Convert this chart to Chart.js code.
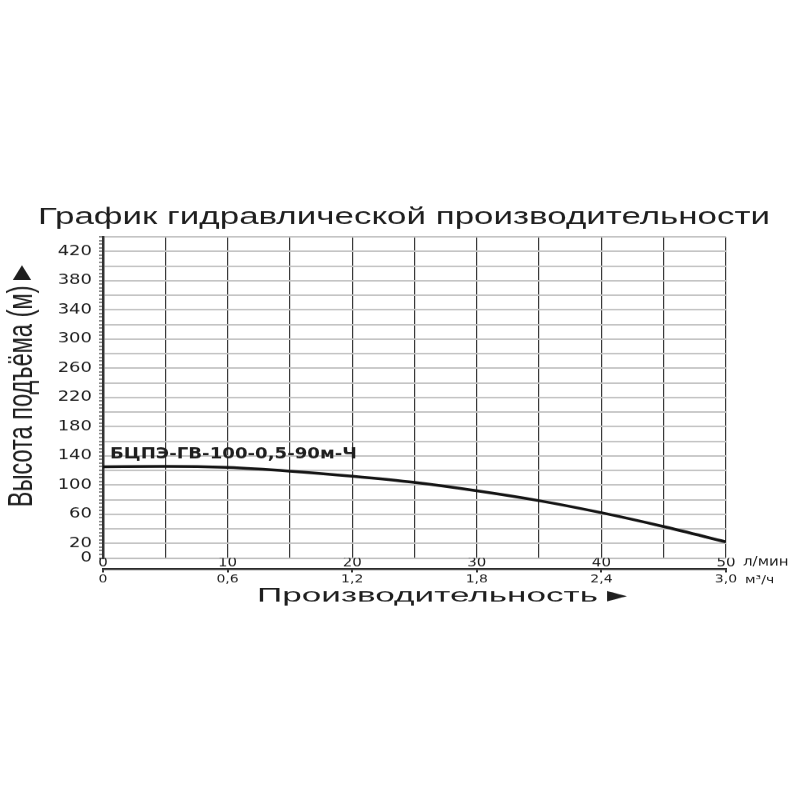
<!DOCTYPE html>
<html lang="ru">
<head>
<meta charset="utf-8">
<title>График гидравлической производительности</title>
<script src="https://cdn.jsdelivr.net/npm/chart.js@4.4.1/dist/chart.umd.min.js"></script>
<style>
    html, body { margin: 0; padding: 0; background: #fff; overflow: hidden; width: 800px; height: 800px; }
    /* the reference picture is squashed vertically, so draw tall and squash */
    #chart { display: block; transform: scale(1, 0.8); transform-origin: 0 0; }
</style>
</head>
<body>
<canvas id="chart" width="800" height="1000" style="width:800px;height:1000px"></canvas>
<script>
// Data
const flowLpm = [0, 5, 10, 15, 20, 25, 30, 35, 40, 45, 50];          // л/мин
const headM = [125, 125.5, 124, 119, 112, 103.5, 92, 78.5, 62, 43, 22]; // м

const yTickLabels = [0, 20, 60, 100, 140, 180, 220, 260, 300, 340, 380, 420];
const xTickLabels = [0, 10, 20, 30, 40, 50];
const x2TickLabels = ['0', '0,6', '1,2', '1,8', '2,4', '3,0'];

const chartTitle = 'График гидравлической производительности';
const yTitle = 'Высота подъёма (м)';
const xTitle = 'Производительность';
const seriesName = 'БЦПЭ-ГВ-100-0,5-90м-Ч';

const textColor = '#1e1e1e';

// draw text stretched to a given width, left edge at x
function drawFitted(ctx, text, x, y, font, targetW) {
    ctx.font = font;
    const w = ctx.measureText(text).width;
    ctx.save();
    ctx.translate(x, y);
    ctx.scale(targetW / w, 1);
    ctx.textAlign = 'left';
    ctx.fillText(text, 0, 0);
    ctx.restore();
}

const textPlugin = {
    id: 'chartTexts',
    afterDraw(chart) {
        const ctx = chart.ctx;
        const xs = chart.scales.x;
        const x2 = chart.scales.x2;
        const ys = chart.scales.y;

        ctx.save();
        ctx.fillStyle = textColor;
        ctx.textBaseline = 'alphabetic';

        // main title
        drawFitted(ctx, chartTitle, 38, 280, '29px "Liberation Sans", Arial, sans-serif', 732);

        // x axis title with arrow
        drawFitted(ctx, xTitle, 257, 752, '24.5px "Liberation Sans", Arial, sans-serif', 341);
        ctx.font = '26px "DejaVu Sans", sans-serif';
        ctx.textAlign = 'left';
        ctx.fillText('►', 607, 752);

        // y axis title (rotated) and arrow
        ctx.save();
        ctx.translate(32, 634);
        ctx.rotate(-Math.PI / 2);
        drawFitted(ctx, yTitle, 0, 0, '35px "Liberation Sans", Arial, sans-serif', 277);
        ctx.restore();

        ctx.font = '24px "DejaVu Sans", sans-serif';
        ctx.textAlign = 'center';
        ctx.textBaseline = 'middle';
        ctx.fillText('▲', 22, 341);

        // series label next to the curve start
        ctx.textBaseline = 'alphabetic';
        drawFitted(ctx, seriesName, xs.getPixelForValue(flowLpm[0]) + 7,
            ys.getPixelForValue(headM[0]) - 10, 'bold 19px "DejaVu Sans", sans-serif', 247);

        // axis units
        ctx.textAlign = 'left';
        ctx.textBaseline = 'middle';
        ctx.font = '15px "DejaVu Sans", sans-serif';
        ctx.fillText('л/мин', xs.right + 17, xs.top + 6);
        ctx.font = '14px "DejaVu Sans", sans-serif';
        ctx.fillText('м³/ч', x2.right + 19, x2.top + 14);

        ctx.restore();
    }
};

new Chart(document.getElementById('chart'), {
    type: 'line',
    data: {
        datasets: [{
            label: seriesName,
            data: flowLpm.map((q, i) => ({ x: q, y: headM[i] })),
            borderColor: '#141414',
            borderWidth: 3.5,
            pointRadius: 0,
            fill: false,
            cubicInterpolationMode: 'monotone'
        }]
    },
    options: {
        responsive: false,
        animation: false,
        layout: {
            padding: { top: 296, right: 74, bottom: 258, left: 0 }
        },
        plugins: {
            legend: { display: false },
            tooltip: { enabled: false },
            title: { display: false }
        },
        scales: {
            x: {
                type: 'linear',
                position: 'bottom',
                weight: 0,
                min: 0,
                max: 50,
                afterFit(scale) { scale.height = 14; },
                grid: {
                    color: '#3a3a3a',
                    lineWidth: 1.2,
                    drawTicks: false
                },
                border: { color: '#bdbdbd', width: 1.5 },
                ticks: {
                    stepSize: 5,
                    autoSkip: false,
                    maxRotation: 0,
                    padding: -2,
                    color: textColor,
                    font: { family: '"DejaVu Sans", sans-serif', size: 15 },
                    callback: (value) => xTickLabels.includes(value) ? String(value) : ''
                }
            },
            x2: {
                type: 'linear',
                position: 'bottom',
                weight: 1,
                min: 0,
                max: 3,
                afterFit(scale) { scale.height = 30.5; },
                grid: {
                    drawOnChartArea: false,
                    color: '#333',
                    tickLength: 4,
                    lineWidth: 2
                },
                border: { color: '#2a2a2a', width: 2.5 },
                ticks: {
                    stepSize: 0.6,
                    autoSkip: false,
                    maxRotation: 0,
                    padding: 0,
                    color: textColor,
                    font: { family: '"DejaVu Sans", sans-serif', size: 14 },
                    callback: (value, index) => x2TickLabels[index] || ''
                }
            },
            y: {
                min: 0,
                max: 440,
                afterFit(scale) { scale.width = 103; },
                grid: {
                    color: (c) => c.tick && c.tick.value % 20 === 0 ? '#c4c4c4' : 'rgba(0,0,0,0)',
                    tickColor: '#8a8a8a',
                    tickLength: 4,
                    lineWidth: 2
                },
                border: { color: '#333', width: 2.5 },
                ticks: {
                    stepSize: 5,
                    autoSkip: false,
                    padding: 7,
                    color: textColor,
                    font: { family: '"DejaVu Sans", sans-serif', size: 18 },
                    callback: (value) => yTickLabels.includes(value) ? String(value) : ''
                }
            }
        }
    },
    plugins: [textPlugin]
});
</script>
</body>
</html>
